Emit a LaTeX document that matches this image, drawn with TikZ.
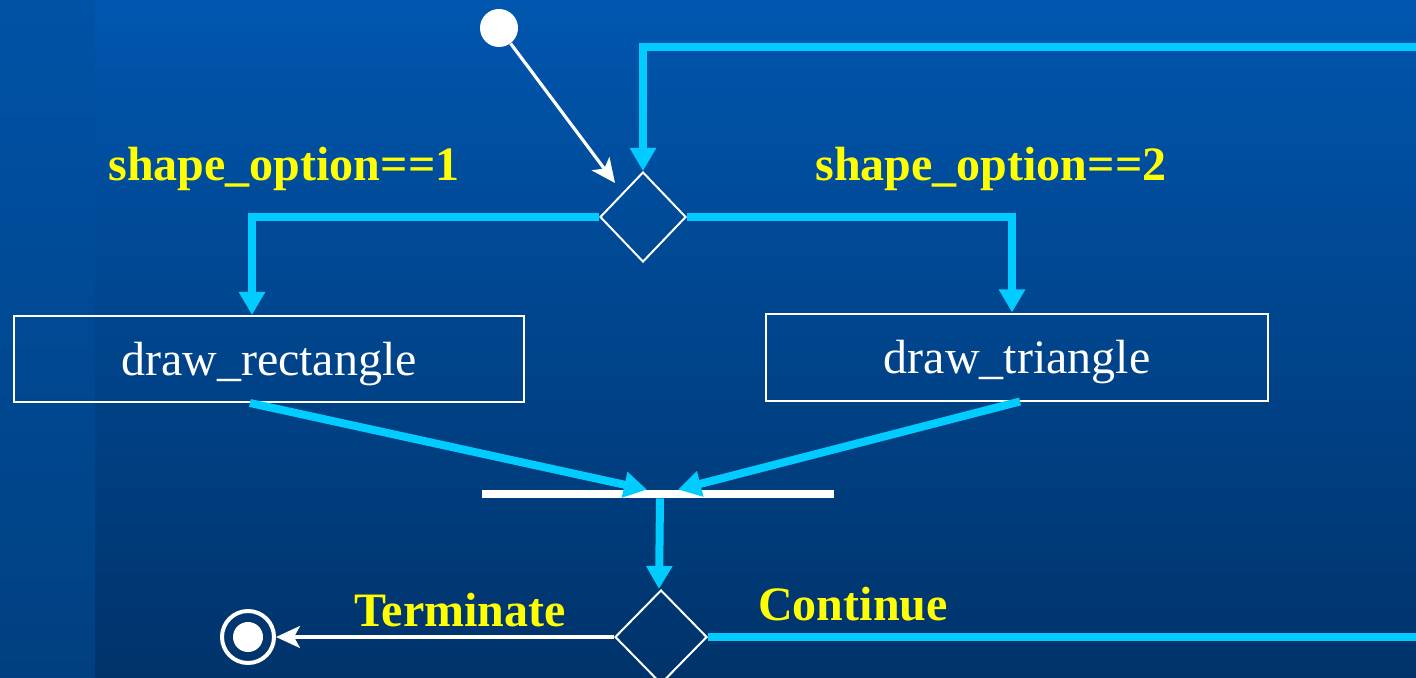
\documentclass[tikz,border=0pt]{standalone}
\usepackage{fontspec}
\setmainfont{Liberation Serif}
\usetikzlibrary{shapes.geometric,arrows.meta,calc}

\definecolor{bgtop}{RGB}{0,86,174}
\definecolor{bgbot}{RGB}{0,51,106}
\definecolor{striptop}{RGB}{0,82,166}
\definecolor{stripbot}{RGB}{0,64,128}
\definecolor{flow}{RGB}{0,204,255}
\definecolor{guard}{RGB}{255,255,0}

\tikzset{
  cflow/.style={draw=flow, line width=4pt, line join=miter,
    -{Triangle[length=11.5pt,width=12.5pt]}},
  wflow/.style={draw=white, line width=1.6pt,
    -{Stealth[length=12pt,width=11pt,inset=3pt]}},
  decision/.style={diamond, draw=white, line width=1pt, inner sep=0pt,
    minimum width=43pt, minimum height=45pt},
  action/.style={rectangle, draw=white, line width=1pt, text=white,
    font=\fontsize{24}{28}\selectfont, inner sep=0pt, text depth=0pt},
  guardlabel/.style={text=guard, font=\fontsize{24}{28}\selectfont\bfseries},
}

\begin{document}
\begin{tikzpicture}[x=0.5pt,y=-0.5pt]
  % page and background
  \clip (0,0) rectangle (1416,678);
  \useasboundingbox (0,0) rectangle (1416,678);
  \shade[top color=striptop, bottom color=stripbot] (0,0) rectangle (95,678);
  \shade[top color=bgtop, bottom color=bgbot] (95,0) rectangle (1416,678);

  % nodes
  \node[circle, fill=white, inner sep=0pt, minimum size=19pt] (start) at (499,28) {};
  \node[decision] (dec1) at (643,217) {};
  \node[action, minimum width=255pt, minimum height=43pt] (r1) at (269,359) {draw\_rectangle};
  \node[action, minimum width=251pt, minimum height=43.5pt] (r2) at (1017,357) {draw\_triangle};
  \node[rectangle, fill=white, inner sep=0pt, minimum width=176pt, minimum height=4pt] (bar) at (658,494) {};
  \node[decision, minimum width=46pt, minimum height=47pt] (dec2) at (661,637) {};
  \node[circle, draw=white, line width=2pt, inner sep=0pt, minimum size=26pt] (final) at (248,637) {};
  \fill[white] (final.center) circle[radius=7.5pt];
  \coordinate (in1) at (615,183);
  \coordinate (loopR) at (1420,637);
  \coordinate (loopT) at (1420,47);

  % guard labels
  \node[guardlabel] (g1) at (284,169) {shape\_option==1};
  \node[guardlabel] (g2) at (991,169) {shape\_option==2};
  \node[guardlabel] (g3) at (460,610) {Terminate};
  \node[guardlabel] (g4) at (853,604) {Continue};

  % connectors
  \draw[wflow] (start) -- (in1);
  \draw[cflow] (dec1.west) -| ([xshift=-8.5pt]r1.north);
  \draw[cflow] (dec1.east) -| ([xshift=-2.5pt]r2.north);
  \draw[cflow] ([xshift=-9.5pt]r1.south) -- ([xshift=-5.5pt]bar.north);
  \draw[cflow] ([xshift=1.5pt]r2.south) -- ([xshift=10pt]bar.north);
  \draw[cflow] ([xshift=1pt]bar.south) -- ([xshift=-1pt]dec2.north);
  \draw[wflow] (dec2.west) -- (final.east);
  \draw[cflow] (dec2.east) -- (loopR) -- (loopT) -| (dec1.north);
\end{tikzpicture}
\end{document}
